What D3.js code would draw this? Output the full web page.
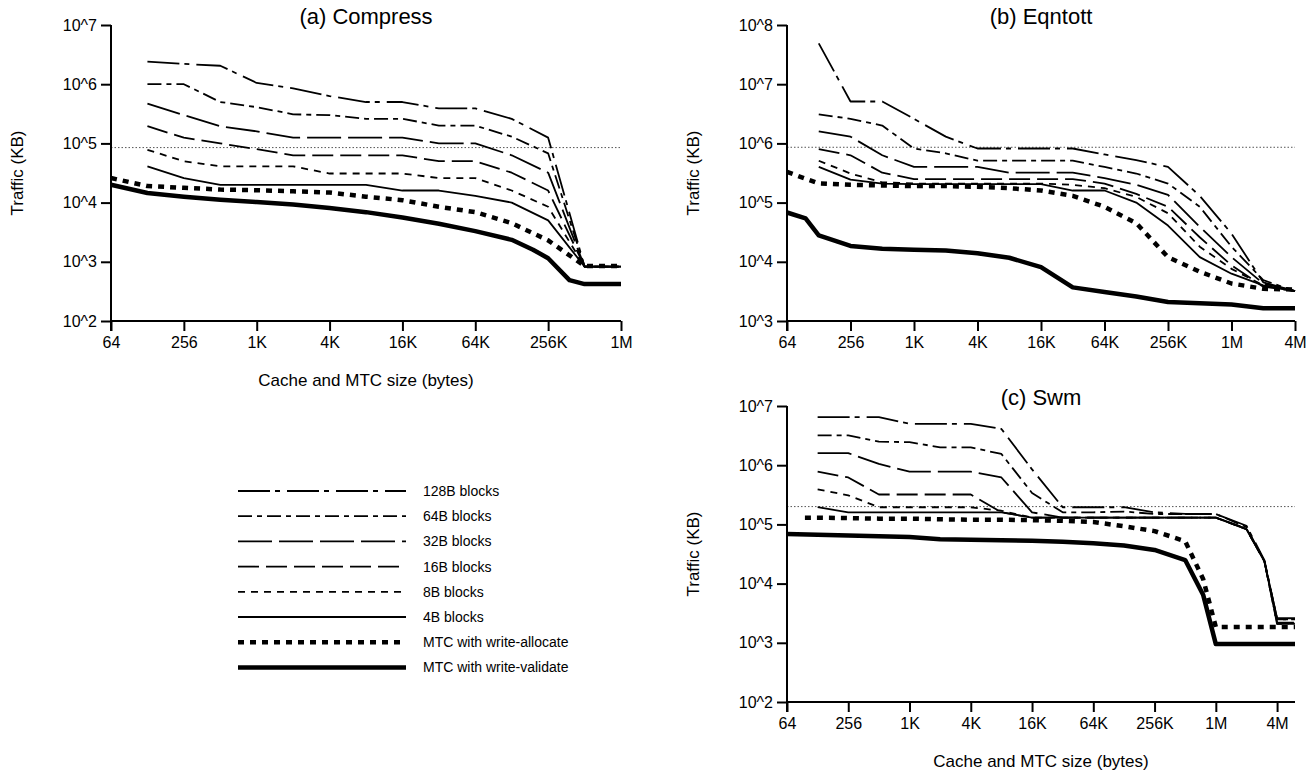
<!DOCTYPE html>
<html>
<head>
<meta charset="utf-8">
<script src="https://cdn.jsdelivr.net/npm/d3@7"></script>
<style>
  body { margin: 0; background: #fff; }
  svg { font-family: "Liberation Sans", Arial, sans-serif; }
</style>
</head>
<body>
<svg id="chart"></svg>
<script>

// cache sizes (bytes) for each panel
var sizesA = [64, 128, 256, 512, 1024, 2048, 4096, 8192, 16384, 32768, 65536, 131072, 196608, 262144, 393216, 524288, 1048576]
var sizesB = [64, 96, 128, 256, 512, 1024, 2048, 4096, 8192, 16384, 32768, 65536, 131072, 262144, 524288, 1048576, 2097152, 4194304]
var sizesC = [64, 96, 128, 256, 512, 1024, 2048, 4096, 8192, 16384, 32768, 65536, 131072, 262144, 524288, 786432, 1048576, 2097152, 3145728, 4194304, 6291456]

// (a) compress, traffic in KB
var a128 = [null, 2.4e6, 2.2e6, 2.05e6, 1.05e6, 8.5e5, 6.3e5, 5.0e5, 5.0e5, 3.9e5, 3.9e5, 2.6e5, null, 1.25e5, null, 830, 830]
var a64  = [null, 1.0e6, 1.0e6, 5.0e5, 4.1e5, 3.1e5, 3.0e5, 2.6e5, 2.6e5, 2.0e5, 2.0e5, 1.3e5, null, 6.8e4, null, 830, 830]
var a32  = [null, 4.7e5, 3.0e5, 1.95e5, 1.6e5, 1.25e5, 1.25e5, 1.25e5, 1.25e5, 1.0e5, 1.0e5, 6.3e4, null, 3.2e4, null, 830, 830]
var a16  = [null, 1.95e5, 1.25e5, 1.0e5, 8.0e4, 6.3e4, 6.3e4, 6.3e4, 6.3e4, 5.0e4, 5.0e4, 3.2e4, null, 1.6e4, null, 830, 830]
var a8   = [null, 7.8e4, 5.0e4, 4.1e4, 4.1e4, 4.1e4, 3.1e4, 3.1e4, 3.1e4, 2.6e4, 2.6e4, 1.6e4, null, 8.5e3, null, 830, 830]
var a4   = [null, 4.1e4, 2.6e4, 2.0e4, 2.0e4, 2.0e4, 2.0e4, 2.0e4, 1.6e4, 1.6e4, 1.3e4, 1.0e4, null, 5.0e3, null, 830, 830]
var aWA  = [2.6e4, 1.9e4, 1.78e4, 1.66e4, 1.62e4, 1.55e4, 1.48e4, 1.26e4, 1.1e4, 8.5e3, 6.9e3, 4.5e3, null, 2.3e3, null, 850, 850]
var aWV  = [2.0e4, 1.45e4, 1.26e4, 1.12e4, 1.02e4, 9.3e3, 8.1e3, 6.9e3, 5.6e3, 4.4e3, 3.3e3, 2.35e3, 1.6e3, 1.15e3, 490, 420, 420]

// (b) eqntott
var b128 = [null, null, 4.9e7, 5.1e6, 5.1e6, 2.6e6, 1.3e6, 8.2e5, 8.2e5, 8.2e5, 8.2e5, 6.5e5, 5.2e5, 4.0e5, 1.3e5, 3.0e4, 4.5e3, 3.2e3]
var b64  = [null, null, 3.1e6, 2.6e6, 2.0e6, 8.2e5, 6.8e5, 5.1e5, 5.1e5, 5.1e5, 5.1e5, 4.0e5, 3.1e5, 2.1e5, 8.5e4, 1.8e4, 4.9e3, 3.2e3]
var b32  = [null, null, 1.6e6, 1.3e6, 6.3e5, 4.0e5, 4.0e5, 4.0e5, 3.2e5, 3.2e5, 3.2e5, 2.6e5, 2.0e5, 1.35e5, 3.9e4, 1.2e4, 4.3e3, 3.2e3]
var b16  = [null, null, 8.0e5, 6.3e5, 3.2e5, 2.5e5, 2.5e5, 2.5e5, 2.5e5, 2.5e5, 2.5e5, 2.1e5, 1.4e5, 8.5e4, 2.6e4, 8.7e3, 3.8e3, 3.2e3]
var b8   = [null, null, 5.1e5, 3.1e5, 2.2e5, 2.1e5, 2.1e5, 2.1e5, 2.1e5, 2.1e5, 2.0e5, 1.75e5, 1.25e5, 6.6e4, 1.8e4, 7.6e3, 4.0e3, 3.2e3]
var b4   = [null, null, 4.0e5, 2.45e5, 2.1e5, 2.05e5, 2.05e5, 2.05e5, 2.05e5, 2.05e5, 1.6e5, 1.6e5, 1.0e5, 4.1e4, 1.2e4, 6.3e3, 4.0e3, 3.2e3]
var bWA  = [3.3e5, null, 2.1e5, 2.0e5, 1.95e5, 1.9e5, 1.9e5, 1.85e5, 1.75e5, 1.6e5, 1.3e5, 8.5e4, 4.5e4, 1.2e4, 6.8e3, 4.3e3, 3.5e3, 3.4e3]
var bWV  = [6.8e4, 5.4e4, 2.8e4, 1.85e4, 1.66e4, 1.6e4, 1.55e4, 1.4e4, 1.17e4, 8.1e3, 3.7e3, 3.1e3, 2.6e3, 2.1e3, 2.0e3, 1.9e3, 1.64e3, 1.64e3]

// (c) swm
var c128 = [null, null, 6.5e6, 6.5e6, 6.5e6, 5.0e6, 5.0e6, 5.0e6, 4.1e6, 8.5e5, 1.95e5, 1.95e5, 1.95e5, 1.6e5, 1.5e5, null, 1.5e5, 9.5e4, 2.5e4, 2.5e3, 2.5e3]
var c64  = [null, null, 3.2e6, 3.2e6, 2.5e6, 2.45e6, 2.0e6, 2.0e6, 1.55e6, 3.4e5, 1.6e5, 1.6e5, 1.65e5, 1.5e5, 1.5e5, null, 1.5e5, 9.0e4, 2.4e4, 2.5e3, 2.5e3]
var c32  = [null, null, 1.6e6, 1.6e6, 1.05e6, 7.8e5, 7.8e5, 7.8e5, 6.2e5, 1.6e5, 1.3e5, 1.3e5, 1.3e5, 1.3e5, 1.3e5, null, 1.3e5, 8.5e4, 2.4e4, 2.2e3, 2.2e3]
var c16  = [null, null, 7.8e5, 6.2e5, 3.2e5, 3.2e5, 3.2e5, 3.2e5, 1.6e5, 1.3e5, 1.3e5, 1.3e5, 1.3e5, 1.3e5, 1.3e5, null, 1.3e5, 8.3e4, 2.4e4, 2.1e3, 2.1e3]
var c8   = [null, null, 3.9e5, 3.1e5, 1.95e5, 1.95e5, 1.95e5, 1.95e5, 1.7e5, 1.3e5, 1.3e5, 1.3e5, 1.3e5, 1.3e5, 1.3e5, null, 1.3e5, 8.3e4, 2.4e4, 2.1e3, 2.1e3]
var c4   = [null, null, 1.95e5, 1.6e5, 1.6e5, 1.6e5, 1.6e5, 1.6e5, 1.6e5, 1.3e5, 1.3e5, 1.3e5, 1.3e5, 1.3e5, 1.3e5, null, 1.3e5, 8.3e4, 2.4e4, 2.6e3, 2.6e3]
var cWA  = [null, 1.3e5, 1.3e5, 1.28e5, 1.25e5, 1.25e5, 1.22e5, 1.2e5, 1.2e5, 1.18e5, 1.15e5, 1.1e5, 9.3e4, 7.7e4, 5.2e4, 1.2e4, 1.85e3, 1.85e3, null, 1.85e3, 1.85e3]
var cWV  = [6.9e4, null, 6.7e4, 6.5e4, 6.3e4, 6.1e4, 5.6e4, 5.5e4, 5.4e4, 5.3e4, 5.1e4, 4.8e4, 4.4e4, 3.7e4, 2.5e4, 6.5e3, 950, 950, null, 950, 950]

// horizontal dotted reference levels
var refA = 8.5e4, refB = 8.6e5, refC = 2.0e5

var seriesNames = ['128B blocks', '64B blocks', '32B blocks', '16B blocks', '8B blocks', '4B blocks', 'MTC with write-allocate', 'MTC with write-validate']
var xTickA = [64, 256, 1024, 4096, 16384, 65536, 262144, 1048576]
var xTickB = [64, 256, 1024, 4096, 16384, 65536, 262144, 1048576, 4194304]
var xTickLabels = {64: '64', 256: '256', 1024: '1K', 4096: '4K', 16384: '16K', 65536: '64K', 262144: '256K', 1048576: '1M', 4194304: '4M'}

// line styles per series, same order as the names
var styles = [
  {w: 1.8, dash: '32,5,5,7'},
  {w: 1.8, dash: '14,5,5,5'},
  {w: 1.8, dash: '34,7'},
  {w: 1.8, dash: '21,7'},
  {w: 1.8, dash: '7,6'},
  {w: 1.8, dash: null},
  {w: 4.5, dash: '6,6'},
  {w: 4.5, dash: null}
]

var width = 1315, height = 777

var svg = d3.select('#chart')
    .attr('width', width)
    .attr('height', height)

function drawPanel(p) {
  var x = d3.scaleLog().base(2).domain(p.xDomain).range([p.left, p.right])
  var y = d3.scaleLog().domain(p.yDomain).range([p.bottom, p.top])
  var g = svg.append('g')

  // dotted reference line
  g.append('line')
    .attr('x1', p.left).attr('x2', p.right)
    .attr('y1', y(p.ref)).attr('y2', y(p.ref))
    .attr('stroke', '#555')
    .attr('stroke-width', 1)
    .attr('stroke-dasharray', '1.5,2')

  var line = d3.line()
    .x((d) => x(d[0]))
    .y((d) => y(d[1]))

  p.series.forEach(function(vals, i) {
    var pts = []
    for (var j = 0; j < vals.length; j++) {
      if (vals[j] != null) pts.push([p.sizes[j], vals[j]])
    }
    g.append('path')
      .attr('d', line(pts))
      .attr('fill', 'none')
      .attr('stroke', '#000')
      .attr('stroke-width', styles[i].w)
      .attr('stroke-dasharray', styles[i].dash)
      .attr('stroke-linejoin', 'round')
  })

  // axes
  var yTicks = d3.range(Math.log10(p.yDomain[0]), Math.log10(p.yDomain[1]) + 1).map((e) => Math.pow(10, e))
  var yAxis = d3.axisLeft(y)
    .tickValues(yTicks)
    .tickFormat((d) => '10^' + Math.round(Math.log10(d)))
    .tickSize(10)
    .tickPadding(4)
  var xAxis = d3.axisBottom(x)
    .tickValues(p.xTicks)
    .tickFormat((d) => xTickLabels[d])
    .tickSize(10)
    .tickPadding(6)

  var ya = g.append('g')
    .attr('transform', `translate(${p.left},0)`)
    .call(yAxis)
  var xa = g.append('g')
    .attr('transform', `translate(0,${p.bottom})`)
    .call(xAxis)

  ;[ya, xa].forEach(function(a) {
    a.select('.domain').attr('stroke-width', 2).attr('d', null)
    a.selectAll('.tick line').attr('stroke-width', 2)
    a.selectAll('.tick text').attr('font-size', 16).attr('fill', '#000')
  })
  ya.select('.domain').attr('d', `M0,${p.top}V${p.bottom + 10}`)
  xa.select('.domain').attr('d', `M${p.left},0H${p.right}`)

  // titles
  g.append('text')
    .attr('x', (p.left + p.right) / 2)
    .attr('y', p.top - 1)
    .attr('text-anchor', 'middle')
    .attr('font-size', 22)
    .text(p.title)

  g.append('text')
    .attr('transform', `translate(${p.left - 88},${(p.top + p.bottom) / 2}) rotate(-90)`)
    .attr('text-anchor', 'middle')
    .attr('font-size', 17)
    .text('Traffic (KB)')

  if (p.xTitle) {
    g.append('text')
      .attr('x', (p.left + p.right) / 2)
      .attr('y', p.bottom + 65)
      .attr('text-anchor', 'middle')
      .attr('font-size', 17)
      .text('Cache and MTC size (bytes)')
  }
}

drawPanel({
  title: '(a) Compress', left: 111, right: 621, top: 25, bottom: 321,
  xDomain: [64, 1048576], yDomain: [1e2, 1e7], xTicks: xTickA, sizes: sizesA, ref: refA, xTitle: true,
  series: [a128, a64, a32, a16, a8, a4, aWA, aWV]
})

drawPanel({
  title: '(b) Eqntott', left: 787, right: 1295, top: 25, bottom: 321,
  xDomain: [64, 4194304], yDomain: [1e3, 1e8], xTicks: xTickB, sizes: sizesB, ref: refB, xTitle: false,
  series: [b128, b64, b32, b16, b8, b4, bWA, bWV]
})

drawPanel({
  title: '(c) Swm', left: 787, right: 1295, top: 406, bottom: 702,
  xDomain: [64, 6291456], yDomain: [1e2, 1e7], xTicks: xTickB, sizes: sizesC, ref: refC, xTitle: true,
  series: [c128, c64, c32, c16, c8, c4, cWA, cWV]
})

// legend
var legend = svg.append('g').attr('transform', 'translate(238,491)')
var rows = legend.selectAll('g')
    .data(seriesNames)
    .enter()
    .append('g')
    .attr('transform', (d, i) => `translate(0,${i * 25.2})`)

rows.append('line')
  .attr('x1', 0).attr('x2', 168)
  .attr('stroke', '#000')
  .attr('stroke-width', (d, i) => styles[i].w)
  .attr('stroke-dasharray', (d, i) => styles[i].dash)

rows.append('text')
  .attr('x', 185)
  .attr('dy', '0.35em')
  .attr('font-size', 14)
  .text((d) => d)

</script>
</body>
</html>
